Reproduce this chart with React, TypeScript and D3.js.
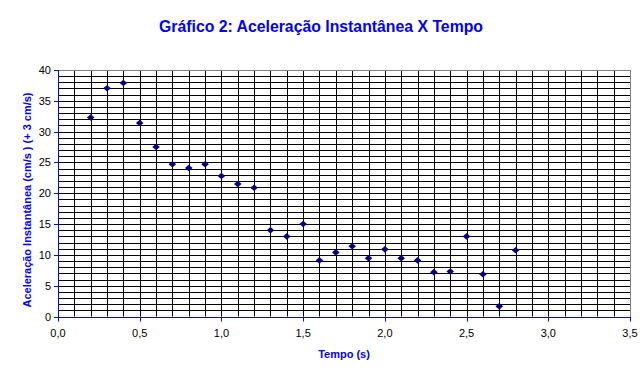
import React from "react";
import * as d3 from "d3";

const tempo = [0.2, 0.3, 0.4, 0.5, 0.6, 0.7, 0.8, 0.9, 1.0, 1.1, 1.2, 1.3, 1.4, 1.5, 1.6, 1.7, 1.8, 1.9, 2.0, 2.1, 2.2, 2.3, 2.4, 2.5, 2.6, 2.7, 2.8];
const aceleracao = [32.3, 37.05, 37.9, 31.4, 27.5, 24.7, 24.1, 24.7, 22.8, 21.5, 20.9, 14.0, 13.0, 15.0, 9.1, 10.4, 11.4, 9.45, 10.9, 9.45, 9.1, 7.2, 7.3, 13.0, 6.85, 1.65, 10.75];
const xTicks = [0, 0.5, 1.0, 1.5, 2.0, 2.5, 3.0, 3.5];
const yTicks = [0, 5, 10, 15, 20, 25, 30, 35, 40];

const title = "Gráfico 2: Aceleração Instantânea X Tempo";
const xLabel = "Tempo (s)";
const yLabel = "Aceleração Instantânea (cm/s )  (+ 3 cm/s)";

export default function App() {
  const W = 644, H = 380;
  const left = 58, right = 630, top = 70, bottom = 316.5;
  const x = d3.scaleLinear().domain([0, 3.5]).range([left, right]);
  const y = d3.scaleLinear().domain([0, 40]).range([bottom, top]);
  const vGrid = d3.range(1, 35).map((i) => i / 10);
  const hGrid = d3.range(1, 40);
  const blue = "#0000FF";
  const font = "Arial, 'Liberation Sans', sans-serif";
  const diamond = "M-3.8,0L0,-3.3L3.8,0L0,3.3Z";
  const fmt = (v: number) => v.toFixed(1).replace(".", ",");

  return (
    <svg width={W} height={H} style={{ position: "absolute", left: 0, top: 0, background: "#fff" }} fontFamily={font}>
      <rect x={0} y={0} width={W} height={H} fill="#fff" />
      <text x={321} y={32} textAnchor="middle" fontSize={16} fontWeight="bold" fill={blue} textLength={324} lengthAdjust="spacingAndGlyphs">{title}</text>
      {hGrid.map((v) => (
        <line key={"h" + v} x1={left} x2={right} y1={Math.round(y(v)) + 0.5} y2={Math.round(y(v)) + 0.5} stroke="#000" strokeWidth={1} />
      ))}
      {vGrid.map((v) => (
        <line key={"v" + v} x1={Math.round(x(v)) + 0.5} x2={Math.round(x(v)) + 0.5} y1={top} y2={bottom} stroke="#000" strokeWidth={1} />
      ))}
      <line x1={left} x2={right} y1={top + 0.5} y2={top + 0.5} stroke="#808080" />
      <line x1={right + 0.5} x2={right + 0.5} y1={top} y2={bottom} stroke="#808080" />
      <line x1={left + 0.5} x2={left + 0.5} y1={top} y2={bottom + 1} stroke={blue} />
      <line x1={left} x2={right + 1} y1={Math.round(bottom) + 0.5} y2={Math.round(bottom) + 0.5} stroke={blue} />
      {yTicks.map((v) => (
        <g key={"yt" + v}>
          <line x1={left - 4} x2={left} y1={Math.round(y(v)) + 0.5} y2={Math.round(y(v)) + 0.5} stroke={blue} />
          <text x={left - 7} y={y(v) + 4} textAnchor="end" fontSize={11} fill="#000">{v}</text>
        </g>
      ))}
      {xTicks.map((v) => (
        <g key={"xt" + v}>
          <line x1={Math.round(x(v)) + 0.5} x2={Math.round(x(v)) + 0.5} y1={bottom} y2={bottom + 5} stroke={blue} />
          <text x={x(v)} y={337} textAnchor="middle" fontSize={11} fill="#000">{fmt(v)}</text>
        </g>
      ))}
      {tempo.map((t, i) => (
        <path key={"p" + i} d={diamond} transform={`translate(${x(t)},${y(aceleracao[i])})`} fill="#000080" />
      ))}
      <text x={344} y={358} textAnchor="middle" fontSize={11} fontWeight="bold" fill={blue}>{xLabel}</text>
      <text transform={`translate(31,200) rotate(-90)`} textAnchor="middle" fontSize={11} fontWeight="bold" fill={blue} textLength={215} lengthAdjust="spacingAndGlyphs">{yLabel}</text>
    </svg>
  );
}
